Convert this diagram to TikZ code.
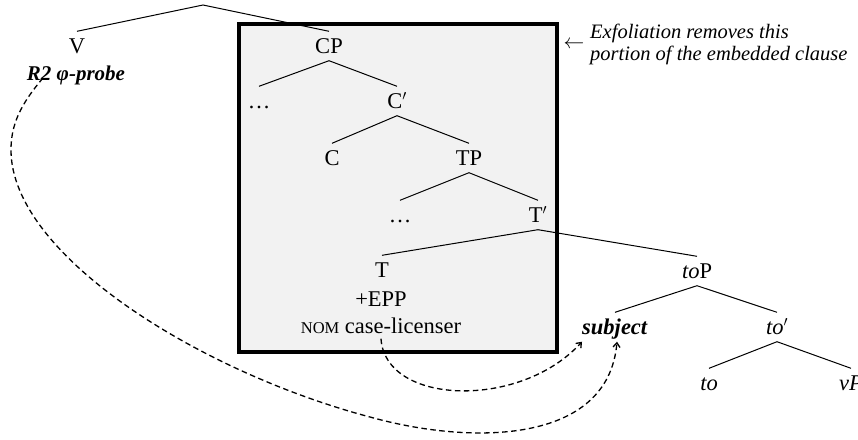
\documentclass[tikz,border=0pt]{standalone}
\usepackage{fontspec}
\setmainfont{Liberation Serif}
\usetikzlibrary{arrows.meta}
\begin{document}
\begin{tikzpicture}[x=1pt,y=-1pt,
  every node/.style={font=\fontsize{22.5}{26}\selectfont},
  tn/.style={inner xsep=1pt, inner ysep=7pt, text height=15pt, text depth=0pt},
  lbl/.style={inner sep=0pt, anchor=base},
  edge/.style={line width=1pt},
  probe/.style={dashed, dash pattern=on 5.5pt off 3.5pt, line width=1.3pt, -{Straight Barb[length=4.5pt,width=7pt]}},
  boxstyle/.style={line width=3.4pt, fill=gray!10},
  note/.style={font=\fontsize{20.5}{22}\selectfont\itshape, align=left, anchor=west, inner sep=0pt}]
\useasboundingbox (0,0) rectangle (858,439);
% shaded box
\draw[boxstyle] (239,24) rectangle (557,352);
% nodes
\coordinate (top) at (203,5);
\node[tn] (V) at (77,46) {V};
\node[lbl,font=\fontsize{21}{24}\selectfont] (probe) at (76,80) {\textbf{\textit{R2 φ-probe}}};
\node[tn] (CP) at (329,46) {CP};
\node[tn] (d1) at (259,101) {\dots};
\node[tn] (Cb) at (397,101) {C$'$};
\node[tn] (C) at (332,158) {C};
\node[tn] (TP) at (469,158) {TP};
\node[tn] (d2) at (400,215) {\dots};
\node[tn] (Tb) at (538,215) {T$'$};
\node[tn] (T) at (382,270) {T};
\node[lbl] (epp) at (381,306) {+EPP};
\node[tn] (nom) at (381,326) {{\fontsize{16.5}{18}\selectfont NOM} case-licenser};
\node[tn] (toP) at (697,271) {\textit{to}P};
\node[tn] (subj) at (615,327) {\textbf{\textit{subject}}};
\node[tn] (tob) at (777,327) {\textit{to}$'$};
\node[tn] (to) at (709,383) {\textit{to}};
\node[tn] (vP) at (851,383) {\textit{vP}};
% annotation
\node[inner sep=0pt] (larr) at (574,45) {$\leftarrow$};
\node[note] (exf) at (590,44) {Exfoliation removes this\\portion of the embedded clause};
% tree edges
\draw[edge] (V.north) -- (top) -- (CP.north);
\draw[edge] (d1.north) -- (CP.south) -- (Cb.north);
\draw[edge] (C.north) -- (Cb.south) -- (TP.north);
\draw[edge] (d2.north) -- (TP.south) -- (Tb.north);
\draw[edge] (T.north) -- (Tb.south) -- (toP.north);
\draw[edge] (subj.north) -- (toP.south) -- (tob.north);
\draw[edge] (to.north) -- (tob.south) -- (vP.north);
% dashed arrows
\draw[probe] ([xshift=-33pt,yshift=2pt]probe.base) .. controls (20,105) and (11,125) .. (11,150)
  .. controls (11,255) and (200,372) .. (370,417)
  .. controls (470,445) and (608,445) .. ([xshift=2pt]subj.south);
\draw[probe] ([yshift=2pt]nom.south) .. controls (385,405) and (520,410) .. ([xshift=-33pt]subj.south);
\end{tikzpicture}
\end{document}
